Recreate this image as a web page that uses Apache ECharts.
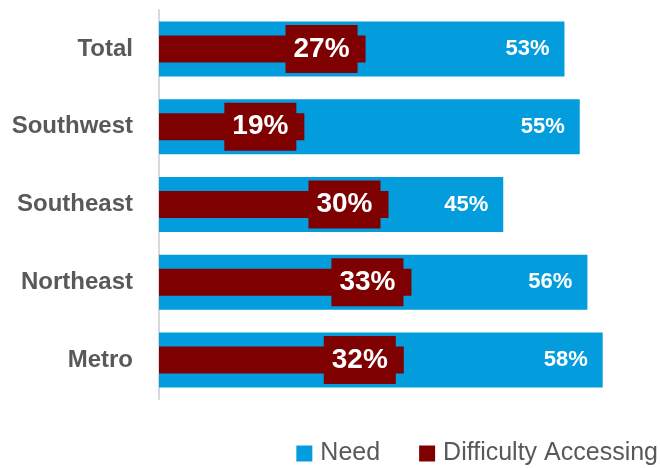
<!DOCTYPE html>
<html>
<head>
<meta charset="utf-8">
<script src="https://cdn.jsdelivr.net/npm/echarts@6/dist/echarts.min.js"></script>
<style>
  html, body { margin: 0; padding: 0; background: #ffffff; }
  #chart { width: 660px; height: 468px; }
</style>
</head>
<body>
<div id="chart"></div>
<script>
// Regions, top to bottom
const regions = ['Total', 'Southwest', 'Southeast', 'Northeast', 'Metro'];
// Share reporting a need (%)
const needValues = [53, 55, 45, 56, 58];
// Share reporting difficulty accessing (%)
const difficultyValues = [27, 19, 30, 33, 32];
const seriesNames = ['Need', 'Difficulty Accessing'];

const FONT = '"Liberation Sans", Arial, sans-serif';
const BLUE = '#039dde';
const DARK_RED = '#7f0000';
const GREY_TEXT = '#595959';

const chart = echarts.init(document.getElementById('chart'), null, { renderer: 'canvas' });

// Each series sits on its own category axis so both bars are centred in the band
chart.setOption({
  animation: false,
  textStyle: { fontFamily: FONT },
  grid: { left: 159, right: 42, top: 10, height: 389, containLabel: false },
  xAxis: {
    type: 'value',
    min: 0,
    max: 60,
    show: false
  },
  yAxis: [
    {
      type: 'category',
      data: regions,
      inverse: true,
      axisLine: { show: true, lineStyle: { color: '#d9d9d9', width: 2 } },
      axisTick: { show: false },
      axisLabel: {
        margin: 26,
        color: GREY_TEXT,
        fontFamily: FONT,
        fontWeight: 'bold',
        fontSize: 24
      }
    },
    {
      type: 'category',
      data: regions,
      inverse: true,
      position: 'left',
      show: false
    }
  ],
  legend: {
    data: seriesNames,
    right: -3,
    top: 436,
    icon: 'rect',
    itemWidth: 16,
    itemHeight: 16,
    itemGap: 39,
    textStyle: {
      color: GREY_TEXT,
      fontFamily: FONT,
      fontSize: 25,
      lineHeight: 24,
      padding: [0, 0, 0, 3]
    }
  },
  series: [
    {
      name: seriesNames[0],
      type: 'bar',
      yAxisIndex: 0,
      data: needValues,
      barWidth: 55,
      itemStyle: { color: BLUE },
      label: {
        show: true,
        position: 'insideRight',
        distance: 15,
        formatter: p => p.value + '%',
        color: '#ffffff',
        fontFamily: FONT,
        fontWeight: 'bold',
        fontSize: 22
      },
      z: 1
    },
    {
      name: seriesNames[1],
      type: 'bar',
      yAxisIndex: 1,
      data: difficultyValues,
      barWidth: 27,
      itemStyle: { color: DARK_RED },
      label: {
        show: true,
        position: 'insideRight',
        distance: 8,
        formatter: p => p.value + '%',
        color: '#ffffff',
        fontFamily: FONT,
        fontWeight: 'bold',
        fontSize: 28,
        lineHeight: 28,
        backgroundColor: DARK_RED,
        padding: [10, 8, 10, 8]
      },
      z: 2
    }
  ]
});
</script>
</body>
</html>
